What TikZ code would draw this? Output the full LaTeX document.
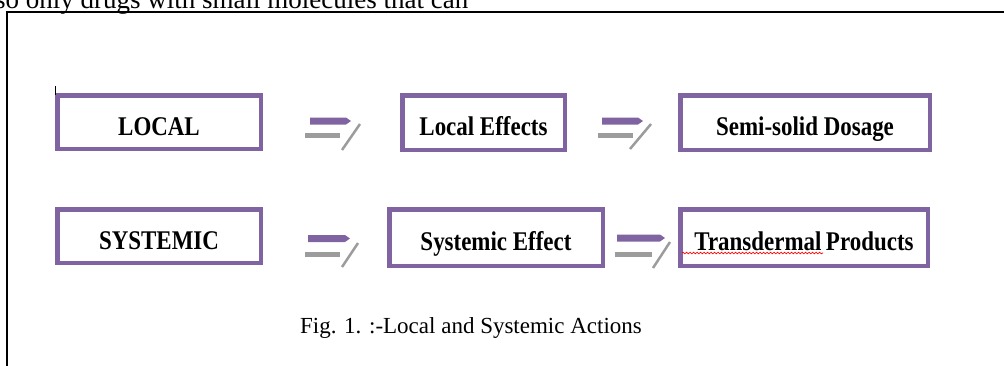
\documentclass[tikz,border=0pt]{standalone}
\usepackage{fontspec}
\setmainfont{Liberation Serif}
\newfontfamily\boxfont[FakeStretch=0.85]{Liberation Serif}
\usetikzlibrary{decorations.pathmorphing}
\definecolor{boxpurple}{HTML}{8064A2}
\definecolor{bargray}{HTML}{9C9C9C}
\begin{document}
\begin{tikzpicture}[x=1pt,y=-1pt,
  stagebox/.style={draw=boxpurple, line width=4.5pt, fill=white, inner sep=0pt,
    text height=26pt, text depth=0pt,
    font=\boxfont\bfseries\fontsize{27pt}{30pt}\selectfont},
  purplebar/.style={fill=boxpurple},
  graybar/.style={draw=bargray, line width=5pt},
  slash/.style={draw=bargray, line width=2.5pt},
  frameline/.style={draw=black, line width=2pt}]
\useasboundingbox (0,0) rectangle (1004,365);
\clip (0,0) rectangle (1004,365);
% page text and frame
\node[anchor=base west, inner sep=0pt, font=\fontsize{27pt}{30pt}\selectfont] (toptext) at (-5,8) {so only drugs with small molecules that can};
\draw[frameline] (1010,12) -- (7,12) -- (7,375);
% boxes
\node[stagebox, minimum width=203.5pt, minimum height=53.5pt] (local) at (159,122) {LOCAL};
\node[stagebox, minimum width=162.5pt, minimum height=54.5pt] (leff) at (483.5,122.5) {Local Effects};
\node[stagebox, minimum width=249.5pt, minimum height=54.5pt] (semi) at (805,122.5) {Semi-solid Dosage};
\node[stagebox, minimum width=203.5pt, minimum height=53.5pt] (sys) at (159,236) {SYSTEMIC};
\node[stagebox, minimum width=213.5pt, minimum height=56.5pt] (seff) at (496,237.5) {Systemic Effect};
\node[stagebox, minimum width=247.5pt, minimum height=56.5pt] (trans) at (804,237.5) {Transdermal\,Products};
\draw[black, line width=1pt] (55,86) -- (55,95);
% spelling underline
\draw[red, line width=0.7pt, decorate, decoration={snake, amplitude=0.8pt, segment length=3.5pt}] (682,253) -- (823,253);
% arrow icons
% row 1, arrow A
\fill[purplebar] (310,117.5) -- (346,117.5) -- (351,121) -- (346,124.5) -- (310,124.5) -- cycle;
\draw[graybar] (305,135.5) -- (340,135.5);
\draw[slash] (360,124) -- (342,150);
% row 1, arrow B
\fill[purplebar] (602,117.5) -- (638,117.5) -- (643,121) -- (638,124.5) -- (602,124.5) -- cycle;
\draw[graybar] (598,135.5) -- (633,135.5);
\draw[slash] (651,124) -- (630,149);
% row 2, arrow C
\fill[purplebar] (308,235) -- (345,235) -- (350,238.5) -- (345,242) -- (308,242) -- cycle;
\draw[graybar] (305,254) -- (340,254);
\draw[slash] (358,243) -- (342,267);
% row 2, arrow D
\fill[purplebar] (617,234.5) -- (660,234.5) -- (665,238) -- (660,241.5) -- (617,241.5) -- cycle;
\draw[graybar] (615,254) -- (652,254);
\draw[slash] (670,242) -- (653,268);
% caption
\node[anchor=base, inner sep=0pt, font=\fontsize{23pt}{28pt}\selectfont] (caption) at (471,333) {Fig. 1. :-Local and Systemic Actions};
\end{tikzpicture}
\end{document}
